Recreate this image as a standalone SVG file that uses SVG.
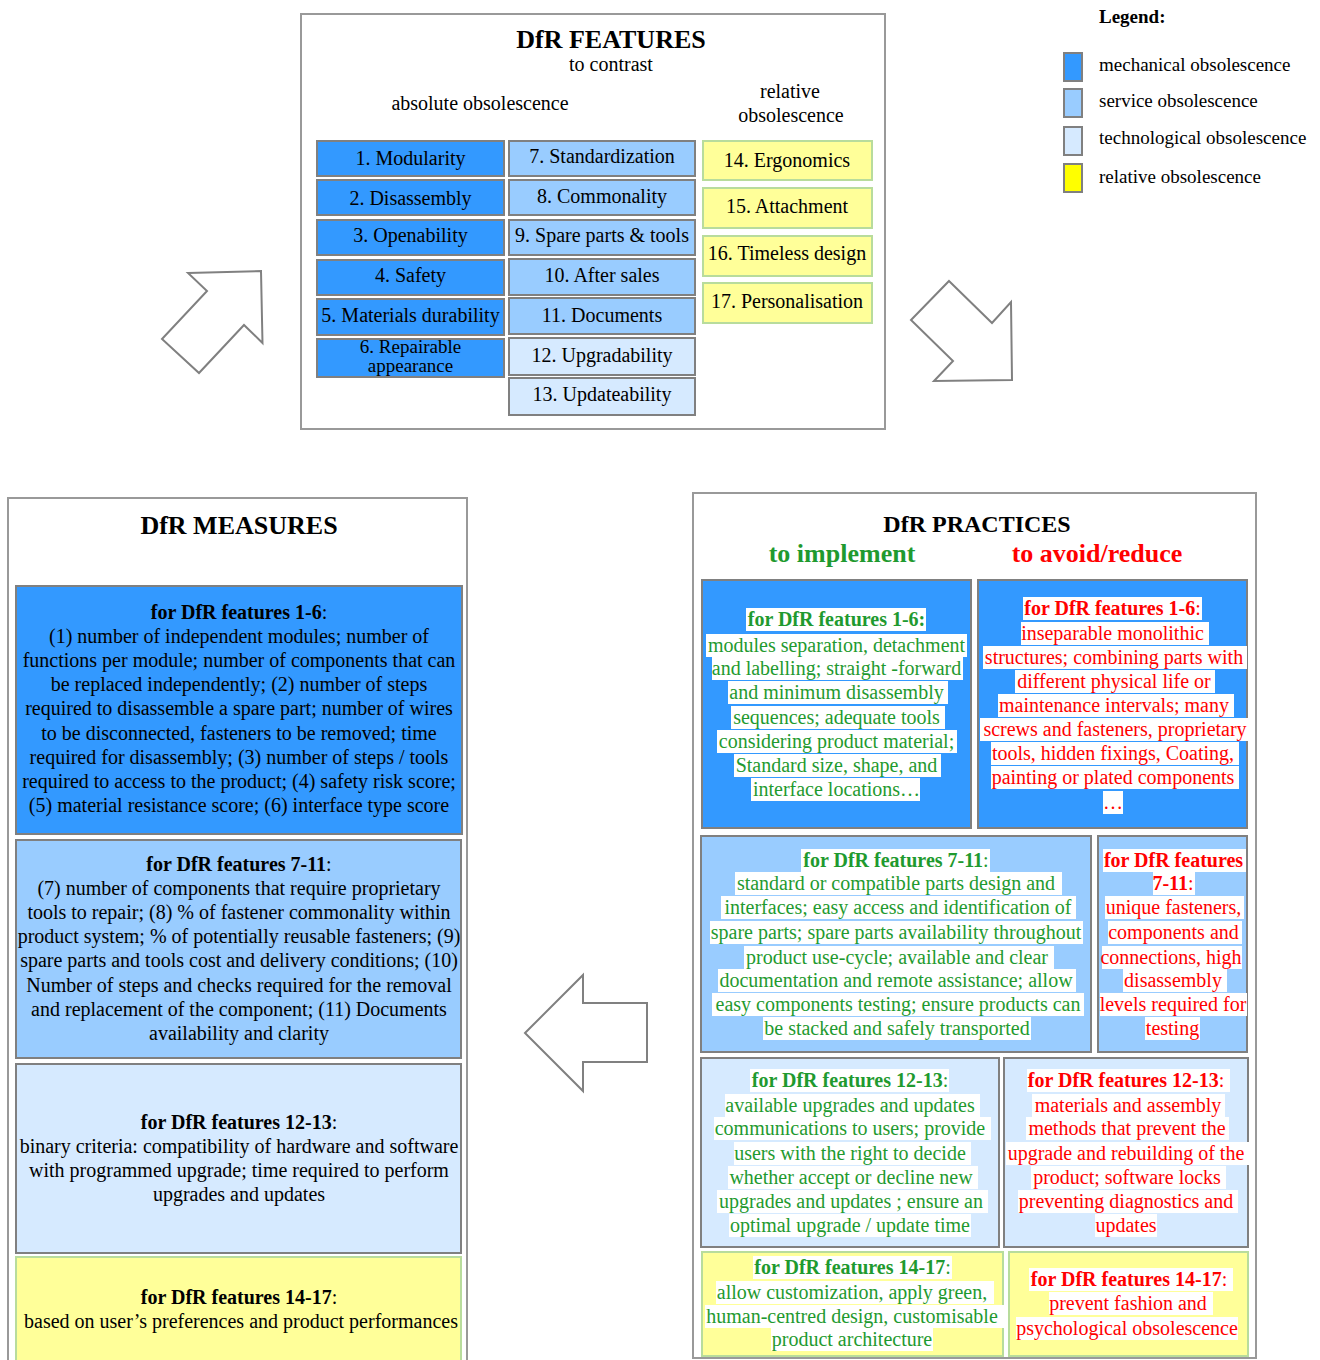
<svg xmlns="http://www.w3.org/2000/svg" width="1320" height="1360" viewBox="0 0 1320 1360">
<style>
text{font-family:"Liberation Serif","Times New Roman",serif;font-size:20px;fill:#000}
.c{text-anchor:middle}
.b{font-weight:bold}
.h{font-size:26px;font-weight:bold}
.frame{fill:#fff;stroke:#999;stroke-width:2}
.m{fill:#3399ff;stroke:#808080;stroke-width:2}
.s{fill:#99ccff;stroke:#808080;stroke-width:2}
.t{fill:#d6eaff;stroke:#808080;stroke-width:2}
.y{fill:#ffff99;stroke:#b8dc9c;stroke-width:2}
.yl{fill:#ffff00;stroke:#808080;stroke-width:2}
.g{fill:#1f9a2f}
.r{fill:#ff0000}
.hl{fill:#fff}
.arrow{fill:#fff;stroke:#808080;stroke-width:2}
.lg{font-size:19px}
</style>
<rect width="1320" height="1360" fill="#fff"/>

<g id="features">
<rect class="frame" x="301" y="14" width="584" height="415"/>
<text class="c h" x="611" y="48">DfR FEATURES</text>
<text class="c" x="611" y="71">to contrast</text>
<text class="c" x="480" y="110">absolute obsolescence</text>
<text class="c" x="790" y="98">relative</text>
<text class="c" x="791" y="122">obsolescence</text>
</g>

<g id="f1"><rect class="m" x="317" y="141" width="187" height="35"/><text class="c" x="410.5" y="165">1. Modularity</text></g>
<g id="f2"><rect class="m" x="317" y="180" width="187" height="35"/><text class="c" x="410.5" y="205">2. Disassembly</text></g>
<g id="f3"><rect class="m" x="317" y="220" width="187" height="35"/><text class="c" x="410.5" y="242">3. Openability</text></g>
<g id="f4"><rect class="m" x="317" y="260" width="187" height="35"/><text class="c" x="410.5" y="282">4. Safety</text></g>
<g id="f5"><rect class="m" x="317" y="299" width="187" height="36"/><text class="c" x="410.5" y="322">5. Materials durability</text></g>
<g id="f6"><rect class="m" x="317" y="339" width="187" height="38"/><text class="c" x="410.5" y="353" style="font-size:19px">6. Repairable</text><text class="c" x="410.5" y="372" style="font-size:19px">appearance</text></g>

<g id="f7"><rect class="s" x="509" y="141" width="186" height="35"/><text class="c" x="602" y="163">7. Standardization</text></g>
<g id="f8"><rect class="s" x="509" y="180" width="186" height="35"/><text class="c" x="602" y="203">8. Commonality</text></g>
<g id="f9"><rect class="s" x="509" y="220" width="186" height="35"/><text class="c" x="602" y="242">9. Spare parts &amp; tools</text></g>
<g id="f10"><rect class="s" x="509" y="259" width="186" height="36"/><text class="c" x="602" y="282">10. After sales</text></g>
<g id="f11"><rect class="s" x="509" y="298" width="186" height="36"/><text class="c" x="602" y="322">11. Documents</text></g>
<g id="f12"><rect class="t" x="509" y="338" width="186" height="37"/><text class="c" x="602" y="362">12. Upgradability</text></g>
<g id="f13"><rect class="t" x="509" y="378" width="186" height="37"/><text class="c" x="602" y="401">13. Updateability</text></g>

<g id="f14"><rect class="y" x="703" y="141" width="169" height="39"/><text class="c" x="787" y="167">14. Ergonomics</text></g>
<g id="f15"><rect class="y" x="703" y="188" width="169" height="40"/><text class="c" x="787" y="213">15. Attachment</text></g>
<g id="f16"><rect class="y" x="703" y="236" width="169" height="40"/><text class="c" x="787" y="260">16. Timeless design</text></g>
<g id="f17"><rect class="y" x="703" y="283" width="169" height="40"/><text class="c" x="787" y="308">17. Personalisation</text></g>

<g id="legend">
<text class="b lg" x="1099" y="23">Legend:</text>
<rect class="m" x="1064" y="53" width="18" height="28"/>
<text class="lg" x="1099" y="71">mechanical obsolescence</text>
<rect class="s" x="1064" y="89" width="18" height="28"/>
<text class="lg" x="1099" y="107">service obsolescence</text>
<rect class="t" x="1064" y="127" width="18" height="28"/>
<text class="lg" x="1099" y="144">technological obsolescence</text>
<rect class="yl" x="1064" y="164" width="18" height="28"/>
<text class="lg" x="1099" y="183">relative obsolescence</text>
</g>

<g id="connectors">
<polygon class="arrow" points="188,273 261,271 262.5,343 244,325 199,373 162,339 207,291"/>
<polygon class="arrow" points="949,281 992,323 1011,302 1012,380 934,381 953,361 911,320"/>
<polygon class="arrow" points="525,1033 583,975 583,1003 647,1003 647,1062 583,1062 583,1091"/>
</g>

<g id="measures">
<rect class="frame" x="8" y="498" width="459" height="880"/>
<text class="c h" x="239" y="534">DfR MEASURES</text>
</g>

<g id="m1">
<rect class="m" x="16" y="586" width="446" height="248"/>
<text class="c" x="239" y="618.5"><tspan class="b">for DfR features 1-6</tspan>:</text>
<text class="c" x="239" y="642.7">(1) number of independent modules; number of</text>
<text class="c" x="239" y="666.9">functions per module; number of components that can</text>
<text class="c" x="239" y="691.1">be replaced independently; (2) number of steps</text>
<text class="c" x="239" y="715.3">required to disassemble a spare part; number of wires</text>
<text class="c" x="239" y="739.5">to be disconnected, fasteners to be removed;  time</text>
<text class="c" x="239" y="763.7">required for disassembly; (3) number of steps / tools</text>
<text class="c" x="239" y="787.9">required to access to the product; (4) safety risk score;</text>
<text class="c" x="239" y="812.1">(5) material resistance score; (6) interface type score</text>
</g>

<g id="m2">
<rect class="s" x="16" y="840" width="445" height="218"/>
<text class="c" x="239" y="870.5"><tspan class="b">for DfR features 7-11</tspan>:</text>
<text class="c" x="239" y="894.7">(7) number of components that require proprietary</text>
<text class="c" x="239" y="918.9">tools to repair; (8) % of fastener commonality within</text>
<text class="c" x="239" y="943.1">product system; % of potentially reusable fasteners; (9)</text>
<text class="c" x="239" y="967.3">spare parts and tools cost and delivery conditions; (10)</text>
<text class="c" x="239" y="991.5">Number of steps and checks required for the removal</text>
<text class="c" x="239" y="1015.7">and replacement of the component; (11) Documents</text>
<text class="c" x="239" y="1039.9">availability and clarity</text>
</g>

<g id="m3">
<rect class="t" x="16" y="1064" width="445" height="189"/>
<text class="c" x="239" y="1128.5"><tspan class="b">for DfR features 12-13</tspan>:</text>
<text class="c" x="239" y="1152.7">binary criteria: compatibility of hardware and software</text>
<text class="c" x="239" y="1176.9">with programmed upgrade; time required to perform</text>
<text class="c" x="239" y="1201.1">upgrades and updates</text>
</g>

<g id="m4">
<rect class="y" x="16" y="1257" width="445" height="120"/>
<text class="c" x="239" y="1303.5"><tspan class="b">for DfR features 14-17</tspan>:</text>
<text class="c" x="241" y="1327.7">based on user’s preferences and product performances</text>
</g>

<g id="practices">
<rect class="frame" x="693" y="493" width="563" height="865"/>
<text class="c b" x="977" y="532" style="font-size:24px">DfR PRACTICES</text>
<text class="c h g" x="842" y="562">to implement</text>
<text class="c h r" x="1097" y="562">to avoid/reduce</text>
</g>

<g id="p1a">
<rect class="m" x="702" y="580" width="269" height="248"/>
<rect class="hl" x="746" y="608" width="180" height="23"/>
<rect class="hl" x="706" y="634" width="261" height="23"/>
<rect class="hl" x="712" y="657" width="251" height="23"/>
<rect class="hl" x="728" y="681" width="220" height="23"/>
<rect class="hl" x="731" y="706" width="214" height="23"/>
<rect class="hl" x="717" y="730" width="240" height="23"/>
<rect class="hl" x="734" y="754" width="207" height="23"/>
<rect class="hl" x="751" y="778" width="169" height="23"/>
<text class="c b g" x="836.5" y="625.5">for DfR features 1-6:</text>
<text class="c g" x="836.5" y="651.5">modules separation, detachment</text>
<text class="c g" x="836.5" y="674.5">and labelling; straight -forward</text>
<text class="c g" x="836.5" y="698.5">and minimum disassembly</text>
<text class="c g" x="836.5" y="723.5">sequences; adequate tools</text>
<text class="c g" x="836.5" y="747.5">considering product material;</text>
<text class="c g" x="836.5" y="771.5">Standard size, shape, and</text>
<text class="c g" x="836.5" y="795.5">interface locations…</text>
</g>

<g id="p1b">
<rect class="m" x="978" y="580" width="269" height="248"/>
<rect class="hl" x="1023" y="597" width="179" height="23"/>
<rect class="hl" x="1021" y="622" width="188" height="23"/>
<rect class="hl" x="983" y="646" width="264" height="23"/>
<rect class="hl" x="1015" y="670" width="200" height="23"/>
<rect class="hl" x="998" y="694" width="236" height="23"/>
<rect class="hl" x="980" y="718" width="271" height="23"/>
<rect class="hl" x="991" y="742" width="248" height="23"/>
<rect class="hl" x="991" y="766" width="248" height="23"/>
<rect class="hl" x="1103" y="791" width="20" height="23"/>
<text class="c r" x="1112.5" y="614.5"><tspan class="b">for DfR features 1-6</tspan>:</text>
<text class="c r" x="1112.5" y="639.5">inseparable monolithic</text>
<text class="c r" x="1114" y="663.5">structures; combining parts with</text>
<text class="c r" x="1114" y="687.5">different physical life or</text>
<text class="c r" x="1114" y="711.5">maintenance intervals; many</text>
<text class="c r" x="1115" y="735.5">screws and fasteners, proprietary</text>
<text class="c r" x="1113" y="759.5">tools, hidden fixings, Coating,</text>
<text class="c r" x="1113" y="783.5">painting or plated components</text>
<text class="c r" x="1113" y="808.5">…</text>
</g>

<g id="p2a">
<rect class="s" x="701" y="836" width="390" height="216"/>
<rect class="hl" x="801" y="849" width="189" height="23"/>
<rect class="hl" x="735" y="872" width="327" height="23"/>
<rect class="hl" x="721" y="896" width="355" height="23"/>
<rect class="hl" x="710" y="921" width="373" height="23"/>
<rect class="hl" x="744" y="946" width="310" height="23"/>
<rect class="hl" x="718" y="969" width="358" height="23"/>
<rect class="hl" x="712" y="993" width="372" height="23"/>
<rect class="hl" x="763" y="1017" width="268" height="23"/>
<text class="c g" x="896" y="866.5"><tspan class="b">for DfR features 7-11</tspan>:</text>
<text class="c g" x="896" y="889.5">standard or compatible parts design and</text>
<text class="c g" x="898" y="913.5">interfaces; easy access and identification of</text>
<text class="c g" x="896" y="938.5">spare parts; spare parts availability throughout</text>
<text class="c g" x="897" y="963.5">product use-cycle; available and clear</text>
<text class="c g" x="896" y="986.5">documentation and remote assistance; allow</text>
<text class="c g" x="898" y="1010.5">easy components testing; ensure products can</text>
<text class="c g" x="897" y="1034.5">be stacked and safely transported</text>
</g>

<g id="p2b">
<rect class="s" x="1098" y="836" width="149" height="216"/>
<rect class="hl" x="1103" y="849" width="143" height="23"/>
<rect class="hl" x="1153" y="872" width="42" height="23"/>
<rect class="hl" x="1105" y="896" width="139" height="23"/>
<rect class="hl" x="1108" y="921" width="134" height="23"/>
<rect class="hl" x="1102" y="946" width="140" height="23"/>
<rect class="hl" x="1123" y="969" width="104" height="23"/>
<rect class="hl" x="1100" y="993" width="147" height="23"/>
<rect class="hl" x="1145" y="1017" width="55" height="23"/>
<text class="c b r" x="1173.5" y="866.5">for DfR features</text>
<text class="c r" x="1173" y="889.5"><tspan class="b">7-11</tspan>:</text>
<text class="c r" x="1173.5" y="913.5">unique fasteners,</text>
<text class="c r" x="1173.5" y="938.5">components and</text>
<text class="c r" x="1171" y="963.5">connections, high</text>
<text class="c r" x="1173" y="986.5">disassembly</text>
<text class="c r" x="1173" y="1010.5">levels required for</text>
<text class="c r" x="1172.5" y="1034.5">testing</text>
</g>

<g id="p3a">
<rect class="t" x="701" y="1058" width="298" height="189"/>
<rect class="hl" x="750" y="1069" width="199" height="23"/>
<rect class="hl" x="725" y="1094" width="255" height="23"/>
<rect class="hl" x="714" y="1117" width="277" height="23"/>
<rect class="hl" x="734" y="1142" width="237" height="23"/>
<rect class="hl" x="728" y="1166" width="250" height="23"/>
<rect class="hl" x="717" y="1190" width="271" height="23"/>
<rect class="hl" x="729" y="1214" width="242" height="23"/>
<text class="c g" x="850" y="1086.5"><tspan class="b">for DfR features 12-13</tspan>:</text>
<text class="c g" x="850" y="1111.5">available upgrades and updates</text>
<text class="c g" x="850" y="1134.5">communications to users; provide</text>
<text class="c g" x="850" y="1159.5">users with the right to decide</text>
<text class="c g" x="851" y="1183.5">whether accept or decline new</text>
<text class="c g" x="851" y="1207.5">upgrades and updates ; ensure an</text>
<text class="c g" x="850" y="1231.5">optimal upgrade / update time</text>
</g>

<g id="p3b">
<rect class="t" x="1004" y="1058" width="244" height="189"/>
<rect class="hl" x="1027" y="1069" width="203" height="23"/>
<rect class="hl" x="1032" y="1094" width="193" height="23"/>
<rect class="hl" x="1026" y="1117" width="203" height="23"/>
<rect class="hl" x="1006" y="1142" width="243" height="23"/>
<rect class="hl" x="1031" y="1166" width="195" height="23"/>
<rect class="hl" x="1018" y="1190" width="220" height="23"/>
<rect class="hl" x="1095" y="1214" width="62" height="23"/>
<text class="c r" x="1126" y="1086.5"><tspan class="b">for DfR features 12-13</tspan>:</text>
<text class="c r" x="1128" y="1111.5">materials and assembly</text>
<text class="c r" x="1127" y="1134.5">methods that prevent the</text>
<text class="c r" x="1126" y="1159.5">upgrade and rebuilding of the</text>
<text class="c r" x="1127" y="1183.5">product; software locks</text>
<text class="c r" x="1126" y="1207.5">preventing diagnostics and</text>
<text class="c r" x="1126" y="1231.5">updates</text>
</g>

<g id="p4a">
<rect class="y" x="702" y="1252" width="301" height="104"/>
<rect class="hl" x="753" y="1256" width="199" height="23"/>
<rect class="hl" x="716" y="1281" width="278" height="23"/>
<rect class="hl" x="705" y="1305" width="299" height="23"/>
<rect class="hl" x="771" y="1328" width="162" height="23"/>
<text class="c g" x="852.5" y="1273.5"><tspan class="b">for DfR features 14-17</tspan>:</text>
<text class="c g" x="852" y="1298.5">allow customization, apply green,</text>
<text class="c g" x="852" y="1322.5">human-centred design, customisable</text>
<text class="c g" x="852" y="1345.5">product architecture</text>
</g>

<g id="p4b">
<rect class="y" x="1009" y="1252" width="239" height="104"/>
<rect class="hl" x="1029" y="1268" width="204" height="23"/>
<rect class="hl" x="1049" y="1292" width="164" height="23"/>
<rect class="hl" x="1016" y="1317" width="222" height="23"/>
<text class="c r" x="1129" y="1285.5"><tspan class="b">for DfR features 14-17</tspan>:</text>
<text class="c r" x="1128" y="1309.5">prevent fashion and</text>
<text class="c r" x="1127" y="1334.5">psychological obsolescence</text>
</g>
</svg>
